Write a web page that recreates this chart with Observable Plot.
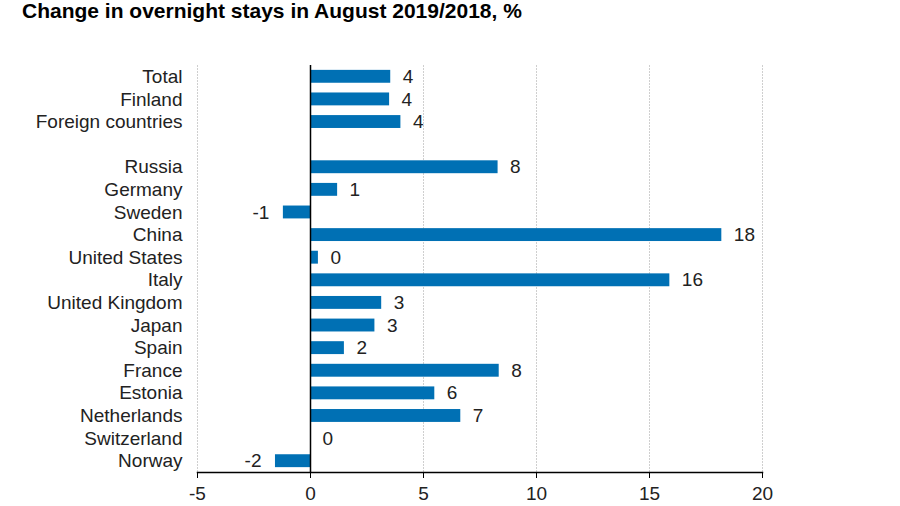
<!DOCTYPE html>
<html>
<head>
<meta charset="utf-8">
<script src="https://cdn.jsdelivr.net/npm/d3@7"></script>
<script src="https://cdn.jsdelivr.net/npm/@observablehq/plot@0.6"></script>
<style>
  body { margin: 0; background: #fff; font-family: "Liberation Sans", Arial, sans-serif; }
  #title { height: 22px; line-height: 22px; font-size: 21px; font-weight: bold; color: #000; padding-left: 22px; white-space: nowrap; }
</style>
</head>
<body>
<div id="title">Change in overnight stays in August 2019/2018, %</div>
<div id="chart"></div>
<script>
const categories = ["Total", "Finland", "Foreign countries", " ", "Russia", "Germany", "Sweden", "China", "United States", "Italy", "United Kingdom", "Japan", "Spain", "France", "Estonia", "Netherlands", "Switzerland", "Norway"];
const dataCategories = ["Total", "Finland", "Foreign countries", "Russia", "Germany", "Sweden", "China", "United States", "Italy", "United Kingdom", "Japan", "Spain", "France", "Estonia", "Netherlands", "Switzerland", "Norway"];
const changes = [3.55, 3.5, 4.0, 8.3, 1.2, -1.2, 18.2, 0.35, 15.9, 3.15, 2.85, 1.5, 8.35, 5.5, 6.65, 0, -1.55];
const xTicks = [-5, 0, 5, 10, 15, 20];
const gridTicks = [-5, 5, 10, 15, 20];

const data = dataCategories.map((c, i) => ({category: c, value: changes[i]}));

const chart = Plot.plot({
  width: 900,
  height: 484,
  marginTop: 43,
  marginBottom: 34,
  marginLeft: 197,
  marginRight: 138,
  style: {fontFamily: "'Liberation Sans', Arial, sans-serif", fontSize: "19px", color: "#222", background: "#fff"},
  x: {domain: [-5, 20], ticks: xTicks, label: null},
  y: {domain: categories, paddingInner: 0.43, paddingOuter: 0.215, round: false, label: null},
  marks: [
    Plot.gridX(gridTicks, {stroke: "#cfcfcf", strokeOpacity: 1, strokeDasharray: "2,1"}),
    Plot.barX(data, {x: "value", y: "category", fill: "#0070b4"}),
    Plot.ruleX([0], {stroke: "#000", strokeWidth: 1.5}),
    Plot.frame({anchor: "bottom", stroke: "#000", strokeWidth: 1.5}),
    Plot.axisX({ticks: xTicks, tickSize: 6, tickPadding: 8, stroke: "#000", fill: "#222", fontSize: "19px", tickFormat: d => String(d)}),
    Plot.axisY({tickSize: 0, tickPadding: 15, fill: "#222", fontSize: "19px", tickFormat: d => d.trim()}),
    Plot.text(data.filter(d => d.value >= 0), {x: "value", y: "category", text: d => String(Math.round(d.value)), textAnchor: "start", dx: 12, fill: "#222", fontSize: "19px"}),
    Plot.text(data.filter(d => d.value < 0), {x: "value", y: "category", text: d => String(Math.round(d.value)), textAnchor: "end", dx: -14, fill: "#222", fontSize: "19px"})
  ]
});
document.getElementById("chart").appendChild(chart);
</script>
</body>
</html>
